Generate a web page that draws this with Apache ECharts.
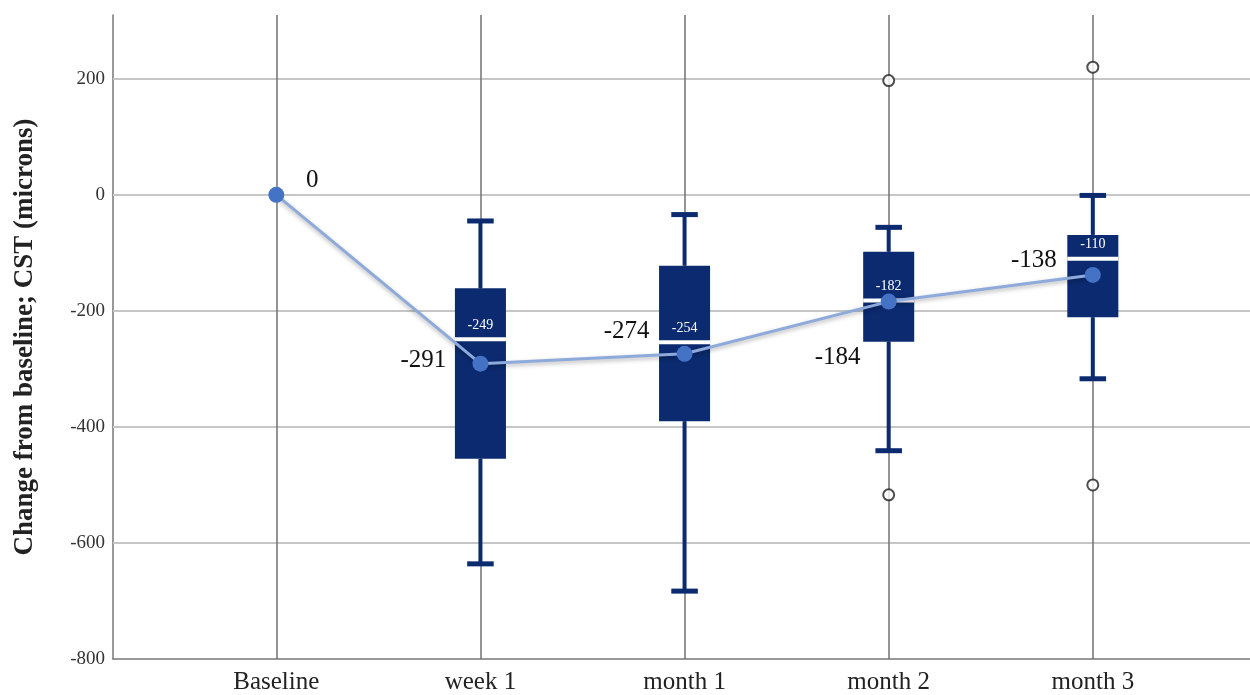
<!DOCTYPE html>
<html>
<head>
<meta charset="utf-8">
<script src="https://cdn.jsdelivr.net/npm/echarts@6/dist/echarts.min.js"></script>
<style>
  html, body { margin: 0; padding: 0; background: #fff; }
  #chart { width: 1250px; height: 695px; }
</style>
</head>
<body>
<div id="chart"></div>
<script>
// categories on the x axis
const categories = ['Baseline', 'week 1', 'month 1', 'month 2', 'month 3']

// boxplot stats for week 1 .. month 3 (category index 1..4)
const boxIndex = [1, 2, 3, 4]
const whiskerLow = [-636, -683, -441, -317]
const q1 = [-455, -390, -253, -211]
const medians = [-249, -254, -182, -110]
const q3 = [-161, -122, -98, -69]
const whiskerHigh = [-45, -34, -56, -1]

// mean change line
const means = [0, -291, -274, -184, -138]

// outliers [category index, value]
const outliers = [[3, 197], [3, -517], [4, 220], [4, -500]]

const yTicks = [-600, -400, -200, 0, 200]

const font = 'Liberation Serif'
const navy = '#0b2a6f'

// label offsets for the mean labels (layout only)
const meanLabelOffset = [[36, -14], [-57, -3], [-58, -22], [-51, 56], [-59, -14]]

const chart = echarts.init(document.getElementById('chart'))

function renderBox(params, api) {
  const x = api.value(0)
  const lo = api.coord([x, api.value(1)])
  const b1 = api.coord([x, api.value(2)])
  const md = api.coord([x, api.value(3)])
  const b3 = api.coord([x, api.value(4)])
  const hi = api.coord([x, api.value(5)])
  const unit = api.size([1, 0])[0]
  const bw = unit * 0.25
  const cw = unit * 0.13
  const cx = md[0]
  const line = { stroke: navy, lineWidth: 4 }
  const cap = { stroke: navy, lineWidth: 5 }
  return {
    type: 'group',
    children: [
      { type: 'line', shape: { x1: cx, y1: hi[1], x2: cx, y2: b3[1] }, style: line },
      { type: 'line', shape: { x1: cx, y1: b1[1], x2: cx, y2: lo[1] }, style: line },
      { type: 'line', shape: { x1: cx - cw / 2, y1: hi[1], x2: cx + cw / 2, y2: hi[1] }, style: cap },
      { type: 'line', shape: { x1: cx - cw / 2, y1: lo[1], x2: cx + cw / 2, y2: lo[1] }, style: cap },
      { type: 'rect', shape: { x: cx - bw / 2, y: b3[1], width: bw, height: b1[1] - b3[1] }, style: { fill: navy } },
      { type: 'line', shape: { x1: cx - bw / 2, y1: md[1], x2: cx + bw / 2, y2: md[1] }, style: { stroke: '#fff', lineWidth: 4 } },
      {
        type: 'text',
        style: {
          x: cx, y: md[1] - 14, text: String(api.value(3)),
          fill: '#fff', font: '14px "' + font + '"', align: 'center', verticalAlign: 'middle'
        }
      }
    ]
  }
}

const option = {
  animation: false,
  grid: { left: 113, right: 0, top: 15, bottom: 36 },
  xAxis: {
    type: 'value',
    min: -0.8,
    max: 4.77,
    axisLine: { show: true, onZero: false, lineStyle: { color: '#777', width: 1.5 } },
    axisTick: { show: false },
    splitLine: { show: false },
    axisLabel: {
      customValues: [0, 1, 2, 3, 4],
      formatter: v => categories[Math.round(v)],
      fontFamily: font, fontSize: 25, color: '#222', margin: 11
    }
  },
  yAxis: {
    type: 'value',
    min: -800,
    max: 310,
    interval: 200,
    name: 'Change from baseline; CST (microns)',
    nameLocation: 'middle',
    nameGap: 74,
    nameTextStyle: { fontFamily: font, fontSize: 27, fontWeight: 'bold', color: '#222' },
    axisLine: { show: true, onZero: false, lineStyle: { color: '#777', width: 1.5 } },
    axisTick: { show: false },
    splitLine: { show: false },
    axisLabel: {
      formatter: v => (v % 200 === 0 ? String(v) : ''),
      fontFamily: font, fontSize: 19, color: '#333', margin: 8
    }
  },
  series: [
    {
      // grid lines
      type: 'line',
      data: [],
      z: 1,
      silent: true,
      markLine: {
        silent: true,
        z: 1,
        symbol: 'none',
        label: { show: false },
        data: [
          ...yTicks.map(v => ({ yAxis: v, lineStyle: { color: '#c6c6c6', width: 2, type: 'solid' } })),
          ...categories.map((c, i) => ({ xAxis: i, lineStyle: { color: '#727272', width: 1.5, type: 'solid' } }))
        ]
      }
    },
    {
      type: 'custom',
      z: 3,
      renderItem: renderBox,
      encode: { x: 0, y: [1, 2, 3, 4, 5] },
      data: boxIndex.map((c, i) => [c, whiskerLow[i], q1[i], medians[i], q3[i], whiskerHigh[i]])
    },
    {
      type: 'scatter',
      z: 3,
      symbol: 'circle',
      symbolSize: 11,
      itemStyle: { color: '#fff', borderColor: '#222', borderWidth: 2 },
      data: outliers
    },
    {
      type: 'line',
      z: 5,
      symbol: 'circle',
      symbolSize: 16,
      lineStyle: {
        color: '#8eaadb', width: 3,
        shadowColor: 'rgba(0,0,0,0.3)', shadowBlur: 4, shadowOffsetY: 2
      },
      itemStyle: { color: '#4472c4' },
      data: means.map((v, i) => ({
        value: [i, v],
        label: {
          show: true,
          position: 'inside',
          offset: meanLabelOffset[i],
          formatter: String(v),
          fontFamily: font, fontSize: 25, color: '#111'
        }
      }))
    }
  ]
}

chart.setOption(option)
</script>
</body>
</html>
